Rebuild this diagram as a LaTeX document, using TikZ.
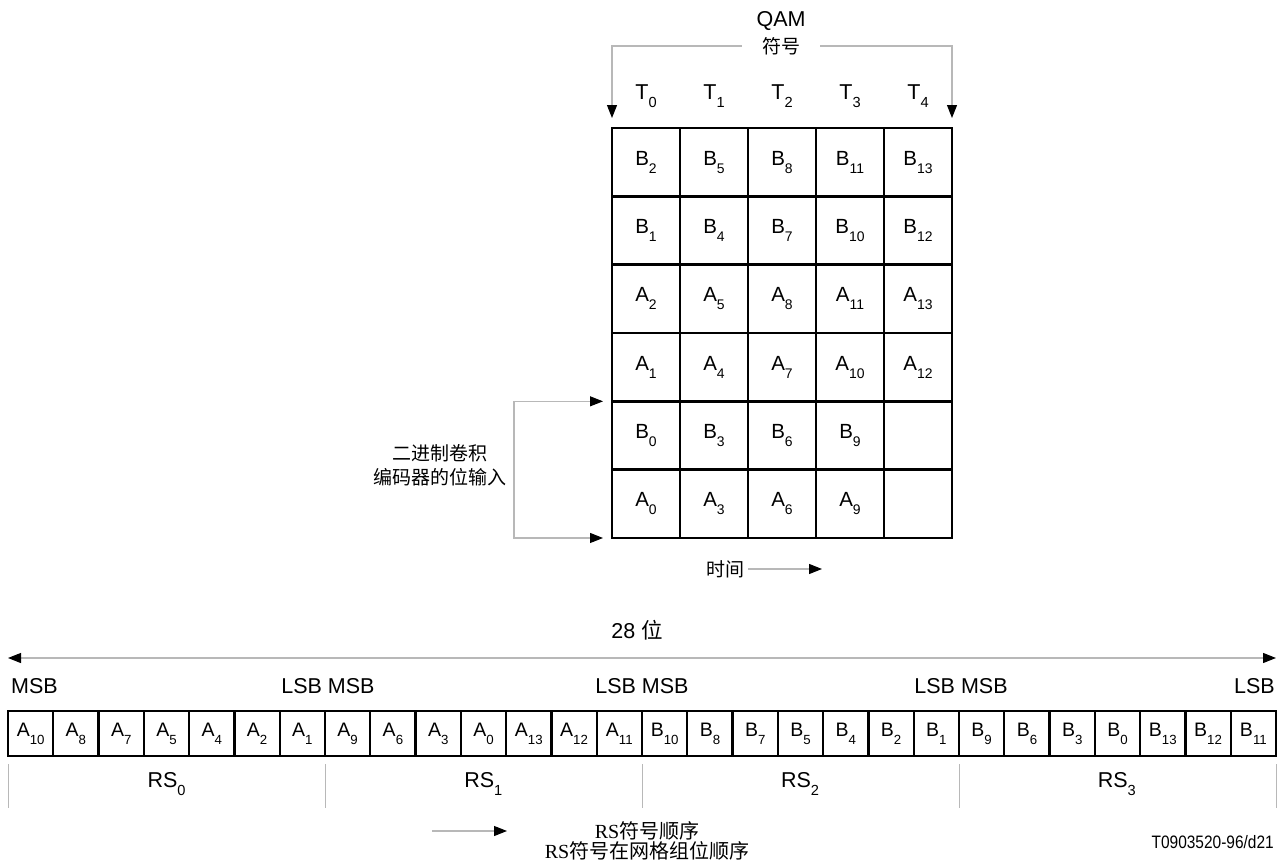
\documentclass[tikz,border=0pt]{standalone}
\usepackage{fontspec}
\setmainfont{Liberation Sans}
\newfontfamily\cjk{Noto Sans CJK SC}
\newfontfamily\serifrs{Liberation Serif}
\usepackage{graphicx}
\usetikzlibrary{arrows.meta}
\definecolor{linegray}{HTML}{B8B8B8}
\newcommand\sbt[1]{\raisebox{-0.4em}{\scalebox{0.68}{#1}}}
\begin{document}
\begin{tikzpicture}[x=1pt,y=-1pt,
  tip/.tip={Triangle[width=10pt,length=13pt,color=black]},
  conn/.style={draw=linegray, line width=1.1pt, -tip},
  conntwo/.style={draw=linegray, line width=1.1pt, tip-tip},
  sepl/.style={draw=linegray, line width=1pt},
  gcell/.style={draw, line width=2.8pt, minimum width=68pt, minimum height=68.33pt, inner sep=0pt, outer sep=0pt, font=\fontsize{20.5}{24}\selectfont},
  bcell/.style={draw, line width=2.3pt, minimum width=45.286pt, minimum height=45pt, inner sep=0pt, outer sep=0pt, font=\fontsize{19.5}{22}\selectfont},
  lbl/.style={font=\fontsize{21.5}{24}\selectfont, inner sep=0pt},
  cjkl/.style={font=\fontsize{19}{24}\selectfont\cjk, inner sep=0pt, align=center}
]
\useasboundingbox (0,0) rectangle (1284,861);

% grid
\foreach \L/\n [count=\k from 0] in {B/2,B/5,B/8,B/11,B/13,B/1,B/4,B/7,B/10,B/12,A/2,A/5,A/8,A/11,A/13,A/1,A/4,A/7,A/10,A/12,B/0,B/3,B/6,B/9,{}/{},A/0,A/3,A/6,A/9,{}/{}}
{
  \pgfmathtruncatemacro\r{int(\k/5)}
  \pgfmathtruncatemacro\c{mod(\k,5)}
  \node[gcell] (g-\r-\c) at (646+68*\c, 162.17+68.33*\r) {\L\sbt{\n}};
}

% QAM label and top bracket
\node[lbl] (qam) at (781,21) {QAM};
\node[cjkl, inner xsep=20pt] (sym) at (781,46) {符号};
\draw[conn] (sym.west) -| ([yshift=10pt]g-0-0.north west);
\draw[conn] (sym.east) -| ([yshift=10pt]g-0-4.north east);

% T labels
\foreach \c in {0,...,4}
  \node[lbl] (t-\c) at (646+68*\c, 96) {T\sbt{\c}};

% left input bracket
\node[cjkl] (inp) at (440,465) {二进制卷积\\编码器的位输入};
\coordinate (lb) at (514,469);
\draw[conntwo] ([xshift=-9pt]g-4-0.north west) -| (lb) |- ([xshift=-9pt]g-5-0.south west);

% time arrow
\node[cjkl, inner xsep=4pt] (time) at (725,569) {时间};
\coordinate (timeend) at (822,569);
\draw[conn] (time.east) -- (timeend);

% 28 bits
\node[lbl] (bits) at (637,630) {28 {\cjk 位}};
\coordinate (la) at (8,658);
\coordinate (ra) at (1276,658);
\draw[conntwo] (la) -- (ra);

% MSB / LSB labels
\node[lbl, anchor=west] (m0) at (11,686) {MSB};
\node[lbl] (m1) at (328,686) {LSB MSB};
\node[lbl] (m2) at (642,686) {LSB MSB};
\node[lbl] (m3) at (961,686) {LSB MSB};
\node[lbl, anchor=east] (m4) at (1275,686) {LSB};

% bit row
\foreach \L/\n [count=\k] in {A/10,A/8,A/7,A/5,A/4,A/2,A/1,A/9,A/6,A/3,A/0,A/13,A/12,A/11,B/10,B/8,B/7,B/5,B/4,B/2,B/1,B/9,B/6,B/3,B/0,B/13,B/12,B/11}
  \node[bcell] (bit-\k) at (8+22.643+45.286*\k-45.286, 733.5) {\L\sbt{\n}};

% RS separators
\draw[sepl] ([yshift=-8pt]bit-1.south west) -- ([yshift=-52pt]bit-1.south west);
\foreach \k in {7,14,21,28}
  \draw[sepl] ([yshift=-8pt]bit-\k.south east) -- ([yshift=-52pt]bit-\k.south east);

% RS labels
\foreach \i in {0,...,3}
  \node[lbl] (rs-\i) at (166.5+316.75*\i, 784) {RS\sbt{\i}};

% bottom legend
\coordinate (oa) at (432,831);
\coordinate (ob) at (507,831);
\draw[conn] (oa) -- (ob);
\node[cjkl, font=\fontsize{20}{20}\selectfont\cjk] (legend) at (647,841) {{\serifrs RS}符号顺序\\{\serifrs RS}符号在网格组位顺序};
\node[lbl, anchor=east, font=\fontsize{18}{22}\selectfont] (ref) at (1274,842) {\scalebox{0.86}[1]{T0903520-96/d21}};
\end{tikzpicture}
\end{document}
